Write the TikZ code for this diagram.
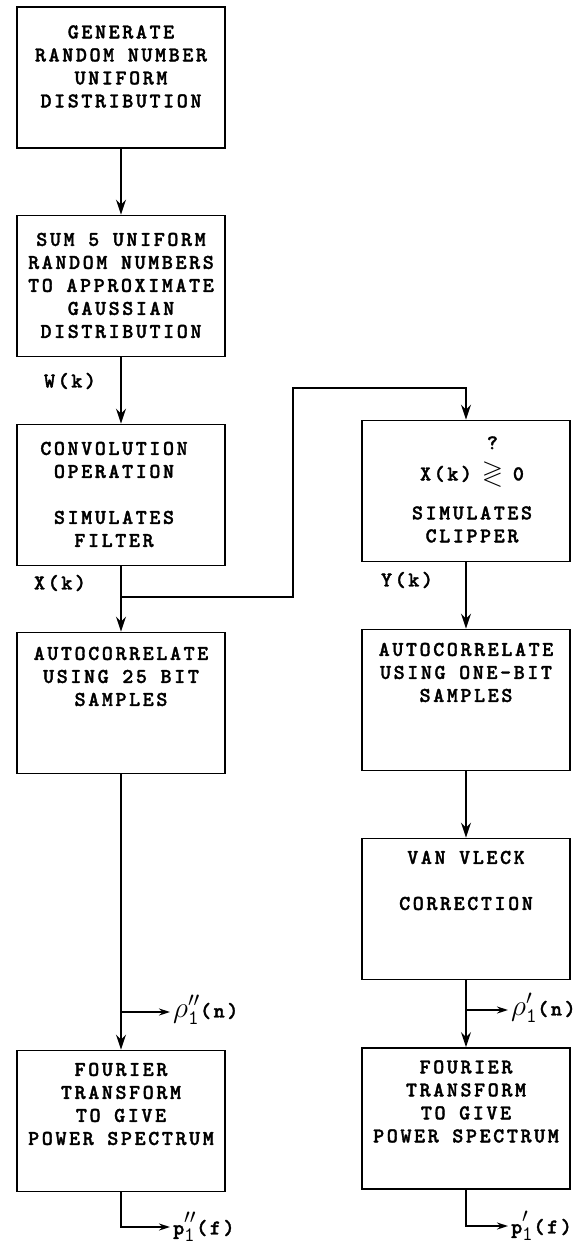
\RequirePackage{fix-cm}
\documentclass[tikz,border=0pt]{standalone}
\usepackage{fontspec}
\usepackage{amssymb}
\usepackage{graphicx}
\newfontfamily\typefont{lmmonolt10-bold}[Extension=.otf, LetterSpace=12.4, FakeBold=1.6]
\usetikzlibrary{arrows.meta,positioning,calc}
\newcommand{\typew}{\typefont\fontsize{21}{23}\selectfont}

\begin{document}
\begin{tikzpicture}[x=1pt, y=1pt,
    block/.style={draw, line width=1.8pt, minimum width=208pt, minimum height=141pt, inner sep=0pt},
    btext/.style={anchor=north, inner sep=0pt, align=center, font=\typew},
    sig/.style={inner sep=3pt, font=\typew},
    flow/.style={-{Stealth[length=15pt,width=10pt,inset=5pt]}, line width=1.6pt},
    tap/.style={-{Stealth[length=11pt,width=7pt]}, line width=1.6pt},
]
\useasboundingbox (0,0) rectangle (588,-1244);

% left column
\node[block] (gen)  at (121,-77.5) {};
\node[block] (sum)  at (121,-286)  {};
\node[block] (conv) at (121,-495)  {};
\node[block] (acl)  at (121,-703)  {};
\node[block] (ftl)  at (121,-1121) {};

\node[btext] (gentxt)  at ([yshift=-19pt]gen.north)  {GENERATE\\RANDOM NUMBER\\UNIFORM\\DISTRIBUTION};
\node[btext] (sumtxt)  at ([yshift=-18pt]sum.north)  {SUM 5 UNIFORM\\RANDOM NUMBERS\\TO APPROXIMATE\\GAUSSIAN\\DISTRIBUTION};
\node[btext] (convtxt) at ([xshift=-7pt,yshift=-18pt]conv.north) {CONVOLUTION\\OPERATION\\[23pt]SIMULATES\\FILTER};
\node[btext] (acltxt)  at ([yshift=-15pt]acl.north)  {AUTOCORRELATE\\USING 25 BIT\\SAMPLES};
\node[btext] (ftltxt)  at ([yshift=-13pt]ftl.north)  {FOURIER\\TRANSFORM\\TO GIVE\\POWER SPECTRUM};

% right column
\node[block] (clip) at (466,-491)    {};
\node[block] (acr)  at (466,-700)    {};
\node[block] (vv)   at (466,-909)    {};
\node[block] (ftr)  at (466,-1118.5) {};

\node[btext] (cliptxt) at ([xshift=6pt,yshift=-15pt]clip.north)
  {\phantom{X(k) }?\phantom{ 0}\\[8pt]X(k) \makebox[0.65em]{\scalebox{1.3}{$\gtrless$}} 0\\[16pt]SIMULATES\\CLIPPER};
\node[btext] (acrtxt)  at ([yshift=-14pt]acr.north)  {AUTOCORRELATE\\USING ONE-BIT\\SAMPLES};
\node[btext] (vvtxt)   at ([yshift=-13pt]vv.north)   {VAN VLECK\\[23pt]CORRECTION};
\node[btext] (ftrtxt)  at ([yshift=-13pt]ftr.north)  {FOURIER\\TRANSFORM\\TO GIVE\\POWER SPECTRUM};

% signal labels
\node[sig] (wk) at (70,-381) {W(k)};
\node[sig] (xk) at (60,-583) {X(k)};
\node[sig] (yk) at (407,-580) {Y(k)};
\node[sig, anchor=west] (rhoL) at (170,-1010) {\scalebox{1.4}{$\rho''_{\mathtt{1}}$}(n)};
\node[sig, anchor=west] (pL)   at (170,-1227) {p\scalebox{1.4}{$''_{\mathtt{1}}$}(f)};
\node[sig, anchor=west] (rhoR) at (508,-1008) {\scalebox{1.4}{$\rho'_{\mathtt{1}}$}(n)};
\node[sig, anchor=west] (pR)   at (508,-1226) {p\scalebox{1.4}{$'_{\mathtt{1}}$}(f)};

\coordinate (split) at (121,-597);
\coordinate (jog)   at (293,-388);
\coordinate (tapL)  at (121,-1012);
\coordinate (tapR)  at (466,-1010);

\draw[flow] (gen) -- (sum);
\draw[flow] (sum) -- (conv);
\draw[flow] (conv) -- (acl);
\draw[flow] (split) -| (jog) -| (clip);
\draw[flow] (acl) -- (ftl);
\draw[tap] (tapL) -- (tapL -| rhoL.west);
\draw[tap] (ftl.south) |- (pL.west);

\draw[flow] (clip) -- (acr);
\draw[flow] (acr) -- (vv);
\draw[flow] (vv) -- (ftr);
\draw[tap] (tapR) -- (tapR -| rhoR.west);
\draw[tap] (ftr.south) |- (pR.west);
\end{tikzpicture}
\end{document}
